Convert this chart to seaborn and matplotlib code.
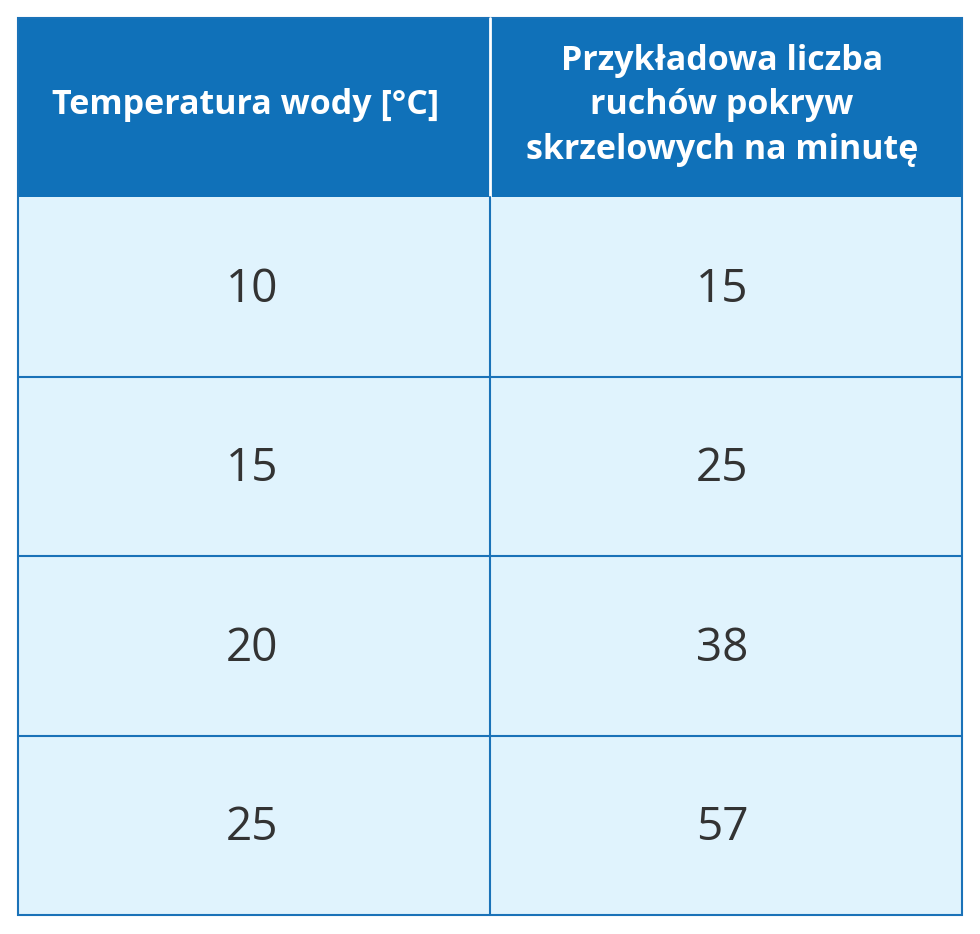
import seaborn as sns
import matplotlib.pyplot as plt
from matplotlib.patches import Rectangle

sns.set_theme(style="white")
plt.rcParams['font.family'] = ['Open Sans', 'DejaVu Sans']

# Dane tabeli
naglowki = ["Temperatura wody [°C]", "Przykładowa liczba\nruchów pokryw\nskrzelowych na minutę"]
temperatura = [10, 15, 20, 25]
ruchy = [15, 25, 38, 57]

fig = plt.figure(figsize=(9.8, 9.34), dpi=100)
ax = fig.add_axes([0, 0, 1, 1])
ax.set_xlim(0, 980)
ax.set_ylim(934, 0)
ax.axis("off")

x0, xm, x1 = 18, 490, 962
y0, yh, y1 = 18, 197, 915
rh = (y1 - yh) / len(temperatura)
kolor_naglowka = "#1071b9"
kolor_komorki = "#e0f3fd"
kolor_linii = "#1a72b8"

ax.add_patch(Rectangle((x0, y0), x1 - x0, yh - y0, facecolor=kolor_naglowka, edgecolor="none"))
ax.add_patch(Rectangle((x0, yh), x1 - x0, y1 - yh, facecolor=kolor_komorki, edgecolor="none"))

for i, (t, r) in enumerate(zip(temperatura, ruchy)):
    yc = yh + rh * (i + 0.5) + 3
    ax.text((x0 + xm) / 2 - 2, yc, str(t), ha="center", va="center", fontsize=33, color="#333333")
    ax.text((xm + x1) / 2 - 4, yc, str(r), ha="center", va="center", fontsize=33, color="#333333")
    if i > 0:
        ax.plot([x0, x1], [yh + rh * i] * 2, color=kolor_linii, lw=1.5)

ax.plot([xm, xm], [y0, yh], color="white", lw=2)
ax.plot([xm, xm], [yh, y1], color=kolor_linii, lw=1.5)
ax.add_patch(Rectangle((x0, y0), x1 - x0, y1 - y0, facecolor="none", edgecolor=kolor_linii, lw=1.5))

ax.text((x0 + xm) / 2 - 8, (y0 + yh) / 2 - 2, naglowki[0], ha="center", va="center",
        fontsize=24.5, fontweight="bold", color="white")
ax.text((xm + x1) / 2 - 4, (y0 + yh) / 2 - 2, naglowki[1], ha="center", va="center",
        fontsize=24.5, fontweight="bold", color="white", linespacing=1.4)

fig.savefig("out.png", dpi=100, facecolor="white")
